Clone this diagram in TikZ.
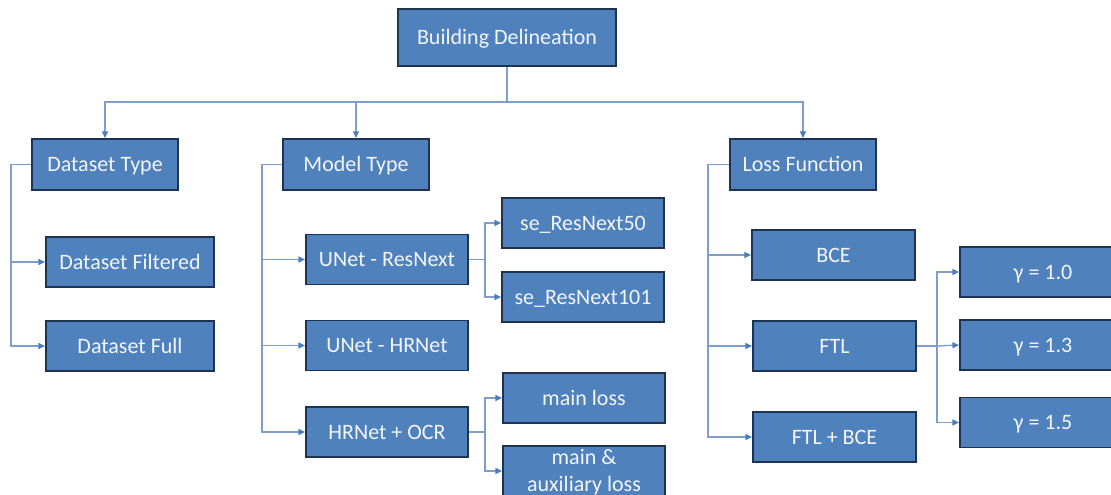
\documentclass[tikz,border=0pt]{standalone}
\usepackage{fontspec}
\setmainfont{Carlito}
\usetikzlibrary{arrows.meta}
\definecolor{boxfill}{HTML}{4F81BD}
\definecolor{boxedge}{HTML}{1E3352}
\definecolor{linec}{HTML}{7E9FCB}
\definecolor{tipc}{HTML}{4A7EBB}
\definecolor{txtc}{HTML}{F2F5FA}
\tikzset{
  box/.style={draw=boxedge, fill=boxfill, line width=1.4pt, text=txtc,
    font=\fontsize{16.5}{20}\selectfont, inner sep=0pt, align=center,
    text height=13pt, text depth=2.4pt, minimum height=37.5pt},
  topbox/.style={box, minimum width=163.5pt, minimum height=42.75pt},
  catbox/.style={box, minimum width=109.5pt, minimum height=38.25pt},
  dsbox/.style={box, minimum width=126pt},
  leafbox/.style={box, minimum width=121.5pt},
  twoline/.style={text height=33pt},
  lossbox/.style={box, minimum width=122.25pt},
  gbox/.style={box, minimum width=124.5pt},
  conn/.style={draw=linec, line width=1pt},
  arr/.style={conn, -{Triangle[length=5pt,width=4.5pt,fill=tipc,color=tipc]}}
}
\begin{document}
\begin{tikzpicture}[x=0.75pt,y=-0.75pt]
\useasboundingbox (0,0) rectangle (1111,495);
% nodes
\node[topbox] (bd) at (507,37.5) {Building Delineation};
\node[catbox] (dt) at (105,164.5) {Dataset Type};
\node[catbox] (mt) at (356,164.5) {Model Type};
\node[catbox] (lf) at (803,164.5) {Loss Function};
\node[dsbox] (df) at (130,262) {Dataset Filtered};
\node[dsbox] (dfull) at (130,346) {Dataset Full};
\node[leafbox] (ur) at (387,259.5) {UNet - ResNext};
\node[leafbox] (uh) at (387,345.5) {UNet - HRNet};
\node[leafbox] (ho) at (387,432) {HRNet + OCR};
\node[leafbox] (s50) at (583,223) {se\_ResNext50};
\node[leafbox] (s101) at (583,297) {se\_ResNext101};
\node[leafbox] (ml) at (584,398) {main loss};
\node[leafbox, twoline] (ma) at (584,471) {main \&\\auxiliary loss};
\node[lossbox] (bce) at (833.5,255) {BCE};
\node[lossbox] (ftl) at (834.5,346) {FTL};
\node[lossbox] (fb) at (834.5,437) {FTL + BCE};
\node[gbox] (g10) at (1043,272) {\symbol{"03B3} = 1.0};
\node[gbox] (g13) at (1043,345) {\symbol{"03B3} = 1.3};
\node[gbox] (g15) at (1043,422.5) {\symbol{"03B3} = 1.5};
% junction coordinates
\coordinate (bus) at (507,102);
\coordinate (dtj) at (11,164.5);
\coordinate (mtj) at (262,164.5);
\coordinate (lfj) at (708,164.5);
\coordinate (urj) at (485,259.5);
\coordinate (hoj) at (485,432);
\coordinate (ftlj) at (937,346);
% connectors
\draw[arr] (bd.south) -- (bus) -| (dt.north);
\draw[arr] (bus) -| (mt.north);
\draw[arr] (bus) -| (lf.north);
\draw[arr] (dt.west) -- (dtj) |- (df.west);
\draw[arr] (dtj) |- (dfull.west);
\draw[arr] (mt.west) -- (mtj) |- (ur.west);
\draw[arr] (mtj) |- (uh.west);
\draw[arr] (mtj) |- (ho.west);
\draw[arr] (ur.east) -- (urj) |- (s50.west);
\draw[arr] (urj) |- (s101.west);
\draw[arr] (ho.east) -- (hoj) |- (ml.west);
\draw[arr] (hoj) |- (ma.west);
\draw[arr] (lf.west) -- (lfj) |- (bce.west);
\draw[arr] (lfj) |- (ftl.west);
\draw[arr] (lfj) |- (fb.west);
\draw[arr] (ftl.east) -- (ftlj) |- (g10.west);
\draw[arr] (ftlj) -- (g13.west);
\draw[arr] (ftlj) |- (g15.west);
\end{tikzpicture}
\end{document}
